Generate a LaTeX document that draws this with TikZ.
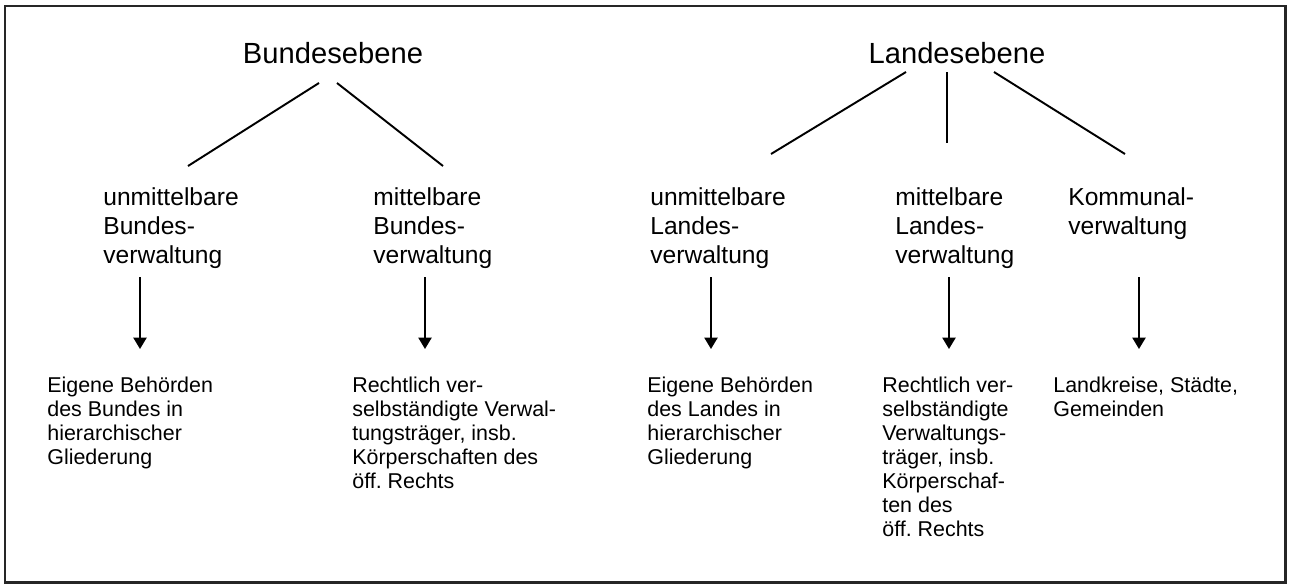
\documentclass[tikz,border=0pt]{standalone}
\usepackage{fontspec}
\setmainfont{Liberation Sans}
\usetikzlibrary{arrows.meta}
\tikzstyle{ebene}=[inner sep=0pt, anchor=base, font=\fontsize{16.6}{20}\selectfont]
\tikzstyle{traeger}=[inner sep=0pt, anchor=north west, align=left, font=\fontsize{14}{16.5}\selectfont]
\tikzstyle{bsp}=[inner sep=0pt, anchor=north west, align=left, font=\fontsize{12.2}{13.6}\selectfont]
\tikzstyle{ast}=[line width=1.1pt]
\tikzstyle{edge}=[line width=1.1pt, -{Triangle[width=7.5pt,length=6.5pt]}]
\tikzstyle{rahmen}=[line width=1.7pt, draw=black!85]

\begin{document}
\begin{tikzpicture}[x=0.02cm, y=-0.02cm]
	\useasboundingbox (0,0) rectangle (1289,585);
	\draw[rahmen] (5,6) rectangle (1285,582);
	%% Bund
	\node[ebene] (bund) at (333,63) {Bundesebene};
	\node[traeger] (ubv) at (103,187) {unmittelbare\\Bundes-\\verwaltung};
	\node[traeger] (mbv) at (373,187) {mittelbare\\Bundes-\\verwaltung};
	\node[bsp] (eb) at (47,377) {Eigene Behörden\\des Bundes in\\hierarchischer\\Gliederung};
	\node[bsp] (rb) at (352,377) {Rechtlich ver-\\selbständigte Verwal-\\tungsträger, insb.\\Körperschaften des\\öff.\ Rechts};
	%%
	\coordinate (b0) at (319,83);  \coordinate (b1) at (188,166);
	\coordinate (b2) at (337,83);  \coordinate (b3) at (443,166);
	\draw[ast] (b0) -- (b1);
	\draw[ast] (b2) -- (b3);
	%%
	\coordinate (u1) at (140,277); \coordinate (v1) at (140,349);
	\coordinate (u2) at (425,277); \coordinate (v2) at (425,349);
	\draw[edge] (u1) -- (v1);
	\draw[edge] (u2) -- (v2);
	%%%%%%
	%% Land
	\node[ebene] (land) at (957,63) {Landesebene};
	\node[traeger] (ulv) at (650,187) {unmittelbare\\Landes-\\verwaltung};
	\node[traeger] (mlv) at (895,187) {mittelbare\\Landes-\\verwaltung};
	\node[traeger] (kv) at (1068,187) {Kommunal-\\verwaltung};
	\node[bsp] (el) at (647,377) {Eigene Behörden\\des Landes in\\hierarchischer\\Gliederung};
	\node[bsp] (rl) at (882,377) {Rechtlich ver-\\selbständigte\\Verwaltungs-\\träger, insb.\\Körperschaf-\\ten des\\öff.\ Rechts};
	\node[bsp] (lk) at (1053,377) {Landkreise, Städte,\\Gemeinden};
	%%
	\coordinate (l0) at (906,72);  \coordinate (l1) at (771,154);
	\coordinate (l2) at (947,72);  \coordinate (l3) at (947,143);
	\coordinate (l4) at (994,72);  \coordinate (l5) at (1125,154);
	\draw[ast] (l0) -- (l1);
	\draw[ast] (l2) -- (l3);
	\draw[ast] (l4) -- (l5);
	%%
	\coordinate (u3) at (711,277);  \coordinate (v3) at (711,349);
	\coordinate (u4) at (949,277);  \coordinate (v4) at (949,349);
	\coordinate (u5) at (1139,277); \coordinate (v5) at (1139,349);
	\draw[edge] (u3) -- (v3);
	\draw[edge] (u4) -- (v4);
	\draw[edge] (u5) -- (v5);
\end{tikzpicture}
\end{document}
